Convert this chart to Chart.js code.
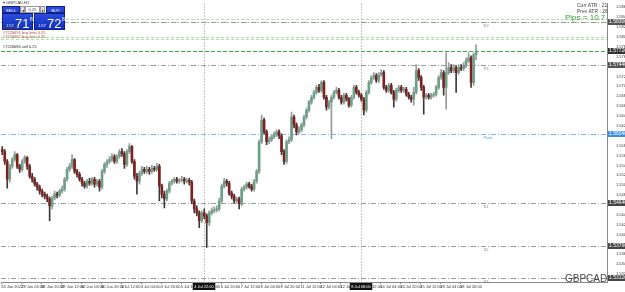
<!DOCTYPE html>
<html><head><meta charset="utf-8">
<script src="https://cdn.jsdelivr.net/npm/chart.js@4.4.0/dist/chart.umd.min.js"></script>
<style>
html,body{margin:0;padding:0;background:#fff;}
#wrap{position:relative;width:625px;height:292px;overflow:hidden;font-family:"Liberation Sans",Arial,sans-serif;}
#c{position:absolute;left:0;top:0;}
.t{position:absolute;white-space:nowrap;line-height:1;}
.btn{position:absolute;background:#2a48d8;color:#fff;font-size:4px;text-align:center;line-height:7px;border:1px solid #0c1f8a;box-sizing:border-box;}
.quote{position:absolute;background:linear-gradient(#2b4be0,#1230b8);color:#fff;border:1px solid #0c1f8a;box-sizing:border-box;}
</style></head><body>
<div id="wrap">
<canvas id="c" width="625" height="292"></canvas>
<div class="t" style="left:3px;top:1px;font-size:4px;color:#333;">▾ GBPCAD,H1</div>
<div class="btn" style="left:2px;top:6px;width:18px;height:7px;">SELL</div>
<div class="btn" style="left:20px;top:6px;width:5px;height:7px;background:#ddd;color:#333;border-color:#999;">◂</div>
<div class="t" style="left:25px;top:6px;width:15px;height:7px;background:#fff;border:1px solid #999;box-sizing:border-box;font-size:4px;color:#333;text-align:center;line-height:5px;">0.25</div>
<div class="btn" style="left:40px;top:6px;width:5px;height:7px;background:#ddd;color:#333;border-color:#999;">▸</div>
<div class="btn" style="left:46px;top:6px;width:19px;height:7px;">BUY</div>
<div class="quote" style="left:2px;top:13px;width:31px;height:17px;"><span class="t" style="left:3px;top:10px;font-size:4px;">1.57</span><span class="t" style="left:12px;top:3px;font-size:13px;">71</span><span class="t" style="left:27px;top:3px;font-size:5px;">8</span></div>
<div class="quote" style="left:34px;top:13px;width:31px;height:17px;"><span class="t" style="left:3px;top:10px;font-size:4px;">1.57</span><span class="t" style="left:12px;top:3px;font-size:13px;">72</span><span class="t" style="left:27px;top:3px;font-size:5px;">8</span></div>
<div class="t" style="left:3px;top:26px;font-size:4px;color:#555;">A2Q5/H5</div>
<div class="t" style="left:3px;top:31px;font-size:4px;color:#a44;">#7226691 buy limit 0.25</div>
<div class="t" style="left:3px;top:35px;font-size:4px;color:#a44;">#7226692 buy limit 0.25</div>
<div class="t" style="left:3px;top:45px;font-size:4px;color:#333;">#7226686 sell 0.25</div>
<div class="t" style="left:577px;top:3px;font-size:5px;color:#444;">Curr ATR : 21</div>
<div class="t" style="left:577px;top:9px;font-size:5px;color:#444;">Prev ATR : 26</div>
<div class="t" style="left:565px;top:14px;font-size:8px;color:#3aa23a;">Pips = 10.7</div>
<div class="t" style="left:565px;top:274px;font-size:10px;color:#444;">GBPCAD</div>
</div>
<script>
// ---- data (H2 candles, GBPCAD) ----
const opens = [
1.5572,1.5568,1.5548,1.5512,1.5538,1.5552,1.5562,1.5538,1.5532,1.5548,
1.5556,1.5538,1.5518,1.5512,1.5502,1.5496,1.5488,1.5482,1.5478,1.5472,
1.5458,1.5474,1.5482,1.5480,1.5488,1.5492,1.5512,1.5532,1.5538,1.5552,
1.5528,1.5522,1.5512,1.5504,1.5498,1.5508,1.5504,1.5512,1.5502,1.5508,
1.5496,1.5528,1.5542,1.5548,1.5552,1.5558,1.5548,1.5558,1.5568,1.5564,
1.5542,1.5568,1.5578,1.5548,1.5518,1.5508,1.5524,1.5532,1.5528,1.5532,
1.5528,1.5534,1.5532,1.5538,1.5498,1.5482,1.5472,1.5488,1.5504,1.5508,
1.5512,1.5508,1.5510,1.5512,1.5508,1.5510,1.5506,1.5468,1.5452,1.5444,
1.5428,1.5444,1.5438,1.5424,1.5444,1.5448,1.5450,1.5452,1.5468,1.5498,
1.5508,1.5504,1.5484,1.5478,1.5468,1.5472,1.5462,1.5492,1.5496,1.5502,
1.5498,1.5492,1.5508,1.5528,1.5588,1.5632,1.5608,1.5588,1.5592,1.5598,
1.5602,1.5608,1.5600,1.5568,1.5548,1.5588,1.5592,1.5638,1.5622,1.5608,
1.5612,1.5622,1.5638,1.5652,1.5668,1.5678,1.5688,1.5698,1.5692,1.5708,
1.5678,1.5658,1.5668,1.5678,1.5688,1.5692,1.5678,1.5668,1.5682,1.5674,
1.5662,1.5678,1.5698,1.5688,1.5682,1.5674,1.5652,1.5688,1.5708,1.5718,
1.5722,1.5712,1.5724,1.5728,1.5698,1.5692,1.5702,1.5688,1.5674,1.5692,
1.5698,1.5692,1.5694,1.5684,1.5678,1.5674,1.5688,1.5732,1.5718,1.5698,
1.5678,1.5682,1.5678,1.5682,1.5684,1.5698,1.5718,1.5728,1.5698,1.5728,
1.5738,1.5732,1.5738,1.5728,1.5738,1.5736,1.5742,1.5752,1.5758,1.5708,
1.5764];
const highs = [
1.5578,1.5572,1.5552,1.5542,1.5556,1.5568,1.5564,1.5542,1.5552,1.5560,
1.5558,1.5542,1.5524,1.5516,1.5506,1.5500,1.5492,1.5486,1.5482,1.5476,
1.5478,1.5488,1.5486,1.5492,1.5498,1.5516,1.5536,1.5544,1.5562,1.5554,
1.5532,1.5526,1.5516,1.5508,1.5512,1.5514,1.5516,1.5516,1.5512,1.5512,
1.5532,1.5546,1.5552,1.5558,1.5564,1.5562,1.5562,1.5572,1.5574,1.5568,
1.5572,1.5584,1.5580,1.5552,1.5524,1.5528,1.5538,1.5536,1.5538,1.5536,
1.5540,1.5538,1.5544,1.5542,1.5502,1.5488,1.5492,1.5508,1.5512,1.5516,
1.5516,1.5514,1.5518,1.5516,1.5514,1.5514,1.5510,1.5472,1.5458,1.5448,
1.5448,1.5452,1.5442,1.5448,1.5454,1.5456,1.5458,1.5474,1.5502,1.5514,
1.5512,1.5508,1.5488,1.5482,1.5476,1.5476,1.5496,1.5500,1.5506,1.5506,
1.5502,1.5512,1.5532,1.5592,1.5642,1.5636,1.5612,1.5598,1.5602,1.5608,
1.5612,1.5612,1.5604,1.5572,1.5592,1.5598,1.5648,1.5642,1.5626,1.5618,
1.5626,1.5642,1.5656,1.5672,1.5682,1.5692,1.5702,1.5704,1.5712,1.5712,
1.5682,1.5672,1.5682,1.5692,1.5698,1.5696,1.5682,1.5686,1.5686,1.5678,
1.5682,1.5702,1.5702,1.5692,1.5686,1.5678,1.5692,1.5712,1.5722,1.5728,
1.5726,1.5728,1.5734,1.5732,1.5702,1.5706,1.5706,1.5692,1.5696,1.5702,
1.5702,1.5698,1.5698,1.5688,1.5682,1.5698,1.5744,1.5736,1.5722,1.5702,
1.5686,1.5686,1.5686,1.5688,1.5702,1.5722,1.5734,1.5732,1.5768,1.5748,
1.5744,1.5744,1.5742,1.5744,1.5744,1.5748,1.5758,1.5768,1.5762,1.5768,
1.5784];
const lows = [
1.5562,1.5542,1.5494,1.5506,1.5534,1.5548,1.5534,1.5526,1.5528,1.5544,
1.5532,1.5514,1.5506,1.5498,1.5490,1.5482,1.5476,1.5472,1.5466,1.5428,
1.5452,1.5470,1.5474,1.5476,1.5484,1.5488,1.5508,1.5528,1.5534,1.5524,
1.5516,1.5508,1.5498,1.5494,1.5494,1.5500,1.5500,1.5496,1.5498,1.5488,
1.5492,1.5524,1.5536,1.5544,1.5548,1.5544,1.5544,1.5554,1.5558,1.5534,
1.5538,1.5564,1.5544,1.5512,1.5482,1.5502,1.5520,1.5524,1.5524,1.5522,
1.5524,1.5528,1.5528,1.5468,1.5474,1.5454,1.5468,1.5484,1.5500,1.5504,
1.5504,1.5504,1.5506,1.5502,1.5504,1.5500,1.5462,1.5444,1.5438,1.5414,
1.5424,1.5432,1.5374,1.5418,1.5440,1.5444,1.5446,1.5448,1.5464,1.5494,
1.5498,1.5480,1.5472,1.5464,1.5464,1.5452,1.5458,1.5488,1.5492,1.5494,
1.5488,1.5488,1.5504,1.5524,1.5584,1.5604,1.5582,1.5584,1.5588,1.5594,
1.5598,1.5594,1.5562,1.5542,1.5544,1.5584,1.5588,1.5616,1.5602,1.5604,
1.5608,1.5618,1.5634,1.5648,1.5664,1.5674,1.5684,1.5688,1.5688,1.5674,
1.5652,1.5654,1.5594,1.5674,1.5684,1.5674,1.5664,1.5664,1.5670,1.5658,
1.5658,1.5674,1.5684,1.5678,1.5670,1.5642,1.5648,1.5684,1.5704,1.5714,
1.5708,1.5708,1.5720,1.5694,1.5688,1.5688,1.5684,1.5658,1.5670,1.5688,
1.5688,1.5688,1.5680,1.5674,1.5668,1.5662,1.5684,1.5712,1.5692,1.5644,
1.5674,1.5674,1.5674,1.5678,1.5680,1.5694,1.5714,1.5682,1.5654,1.5724,
1.5728,1.5728,1.5688,1.5724,1.5732,1.5732,1.5738,1.5748,1.5698,1.5702,
1.5754];
const closes = [
1.5568,1.5548,1.5512,1.5538,1.5552,1.5562,1.5538,1.5532,1.5548,1.5556,
1.5538,1.5518,1.5512,1.5502,1.5496,1.5488,1.5482,1.5478,1.5472,1.5458,
1.5474,1.5482,1.5480,1.5488,1.5492,1.5512,1.5532,1.5538,1.5552,1.5528,
1.5522,1.5512,1.5504,1.5498,1.5508,1.5504,1.5512,1.5502,1.5508,1.5496,
1.5528,1.5542,1.5548,1.5552,1.5558,1.5548,1.5558,1.5568,1.5564,1.5542,
1.5568,1.5578,1.5548,1.5518,1.5508,1.5524,1.5532,1.5528,1.5532,1.5528,
1.5534,1.5532,1.5538,1.5498,1.5482,1.5472,1.5488,1.5504,1.5508,1.5512,
1.5508,1.5510,1.5512,1.5508,1.5510,1.5506,1.5468,1.5452,1.5444,1.5428,
1.5444,1.5438,1.5424,1.5444,1.5448,1.5450,1.5452,1.5468,1.5498,1.5508,
1.5504,1.5484,1.5478,1.5468,1.5472,1.5462,1.5492,1.5496,1.5502,1.5498,
1.5492,1.5508,1.5528,1.5588,1.5632,1.5608,1.5588,1.5592,1.5598,1.5602,
1.5608,1.5600,1.5568,1.5548,1.5588,1.5592,1.5638,1.5622,1.5608,1.5612,
1.5622,1.5638,1.5652,1.5668,1.5678,1.5688,1.5698,1.5692,1.5708,1.5678,
1.5658,1.5668,1.5678,1.5688,1.5692,1.5678,1.5668,1.5682,1.5674,1.5662,
1.5678,1.5698,1.5688,1.5682,1.5674,1.5652,1.5688,1.5708,1.5718,1.5722,
1.5712,1.5724,1.5728,1.5698,1.5692,1.5702,1.5688,1.5674,1.5692,1.5698,
1.5692,1.5694,1.5684,1.5678,1.5674,1.5688,1.5732,1.5718,1.5698,1.5678,
1.5682,1.5678,1.5682,1.5684,1.5698,1.5718,1.5728,1.5698,1.5728,1.5738,
1.5732,1.5738,1.5728,1.5738,1.5736,1.5742,1.5752,1.5758,1.5708,1.5764,
1.5772];
const xTickLabels = ["24 Jun 2022","28 Jun 04:00","28 Jun 20:00","29 Jun 12:00","30 Jun 04:00","30 Jun 20:00",
"1 Jul 12:00","4 Jul 04:00","4 Jul 20:00","5 Jul 12:00","6 Jul 04:00","6 Jul 20:00","7 Jul 12:00",
"8 Jul 04:00","8 Jul 20:00","11 Jul 12:00","12 Jul 04:00","12 Jul 20:00","13 Jul 12:00","14 Jul 04:00",
"14 Jul 20:00","15 Jul 12:00","18 Jul 04:00","18 Jul 20:00"];
const yTicks = [1.5320,1.5340,1.5360,1.5380,1.5400,1.5420,1.5440,1.5460,1.5480,1.5500,1.5520,1.5540,1.5560,
1.5580,1.5600,1.5620,1.5640,1.5660,1.5680,1.5700,1.5720,1.5740,1.5760,1.5780,1.5800,1.5820,1.5840,1.5860];
const pivotNames = ["R2","R1","Pivot","S1","S2","S3"];
const pivotValues = [1.5830,1.5744,1.5604,1.5464,1.5376,1.5312];
const orderValues = [1.5836,1.5830,1.5800,1.5796];
const openOrderValue = 1.5772;
const vLineIndex = [81,144];
const vLineLabels = ["4 Jul 22:00","8 Jul 08:00"];

// ---- layout ----
const SLOTS = 243;
const yMin = 1.5304, yMax = 1.5868;
const labels = Array.from({length:SLOTS},(_,i)=>String(i));
const wickData = labels.map((_,i)=> i<closes.length ? [lows[i],highs[i]] : null);
const bodyData = labels.map((_,i)=> i<closes.length ? [opens[i],closes[i]] : null);
const bull = i => closes[i] >= opens[i];
const bodyColors = labels.map((_,i)=> i<closes.length ? (bull(i) ? '#6c9f88' : '#7e2020') : '#000');
const wickColors = labels.map((_,i)=> i<closes.length ? (bull(i) ? '#9a9a9a' : '#3a3a3a') : '#000');

function fmt(v){return v.toFixed(5);}
const FONT = '"Liberation Sans", Arial, sans-serif';

const overlay = {
  id:'overlay',
  beforeDatasetsDraw(chart){
    const {ctx, chartArea:a, scales:{x,y}} = chart;
    ctx.save();
    ctx.lineWidth = 1;
    ctx.strokeStyle = '#8f8f8f'; ctx.setLineDash([1,2]);
    vLineIndex.forEach(i=>{const px=Math.round(x.getPixelForValue(i))+0.5;ctx.beginPath();ctx.moveTo(px,a.top);ctx.lineTo(px,a.bottom);ctx.stroke();});
    ctx.setLineDash([3,2]);
    orderValues.forEach(v=>{const py=Math.round(y.getPixelForValue(v))+0.5;ctx.strokeStyle='#a8e6a0';ctx.beginPath();ctx.moveTo(a.left,py);ctx.lineTo(a.right,py);ctx.stroke();});
    {const py=Math.round(y.getPixelForValue(openOrderValue))+0.5;ctx.strokeStyle='#38b038';ctx.setLineDash([4,2]);ctx.beginPath();ctx.moveTo(a.left,py);ctx.lineTo(a.right,py);ctx.stroke();}
    pivotValues.forEach((v,k)=>{
      const py=Math.round(y.getPixelForValue(v))+0.5;
      const isP = pivotNames[k]==='Pivot';
      ctx.strokeStyle = isP ? '#7ab8f0' : '#9a9a9a';
      ctx.setLineDash([5,2,1,2]);
      ctx.beginPath();ctx.moveTo(a.left,py);ctx.lineTo(a.right,py);ctx.stroke();
      ctx.setLineDash([]);
      ctx.fillStyle = isP ? '#4a9be8' : '#888';
      ctx.font = '4px '+FONT;
      ctx.textAlign='left'; ctx.textBaseline='top';
      ctx.fillText(pivotNames[k], x.getPixelForValue(193), py+1);
    });
    ctx.restore();
  },
  afterDraw(chart){
    const {ctx, chartArea:a, scales:{x,y}} = chart;
    ctx.save();
    // time axis labels
    ctx.font = '4px '+FONT; ctx.fillStyle='#333'; ctx.textAlign='left'; ctx.textBaseline='top';
    xTickLabels.forEach((t,k)=>{
      const px = x.getPixelForValue(k*8) - 1;
      if (px < a.right - 20) ctx.fillText(t, px, a.bottom+3);
    });
    ctx.strokeStyle='#888'; ctx.lineWidth=1;
    xTickLabels.forEach((t,k)=>{const px=Math.round(x.getPixelForValue(k*8))-0.5; if(px<a.right){ctx.beginPath();ctx.moveTo(px,a.bottom);ctx.lineTo(px,a.bottom+2);ctx.stroke();}});
    // price markers
    ctx.font = '5px '+FONT;
    ctx.textBaseline='middle'; ctx.textAlign='left';
    const boxes = [[orderValues[1],'#555'],[openOrderValue,'#333'],[pivotValues[1],'#555'],[pivotValues[2],'#3d8fe0'],[pivotValues[3],'#444'],[pivotValues[4],'#444'],[pivotValues[5],'#444']];
    boxes.forEach(([v,c])=>{
      const py=Math.round(y.getPixelForValue(v));
      ctx.fillStyle=c; ctx.fillRect(a.right+1,py-3,17,6);
      ctx.fillStyle='#fff'; ctx.fillText(fmt(v),a.right+2,py);
    });
    // separator time labels
    ctx.font = '4px '+FONT;
    ctx.textBaseline='top';
    vLineIndex.forEach((i,k)=>{
      const px=Math.round(x.getPixelForValue(i));
      const w = ctx.measureText(vLineLabels[k]).width+3;
      ctx.fillStyle='#111'; ctx.fillRect(px-w/2,a.bottom+1,w,7);
      ctx.fillStyle='#fff'; ctx.textAlign='center'; ctx.fillText(vLineLabels[k],px,a.bottom+3);
    });
    ctx.restore();
  }
};

new Chart(document.getElementById('c'),{
  type:'bar',
  data:{labels, datasets:[
    {data:wickData, backgroundColor:wickColors, barThickness:1, grouped:false, order:2},
    {data:bodyData, backgroundColor:bodyColors, barThickness:2, minBarLength:1, grouped:false, order:1}
  ]},
  options:{
    responsive:false, animation:false, devicePixelRatio:1,
    layout:{padding:{left:1,top:0,right:0,bottom:0}},
    plugins:{legend:{display:false}, tooltip:{enabled:false}},
    scales:{
      x:{
        grid:{display:false}, border:{display:true,color:'#888'},
        afterFit:s=>{s.height=10;},
        ticks:{display:false}
      },
      y:{
        position:'right', min:yMin, max:yMax,
        grid:{display:false}, border:{display:true,color:'#888'},
        afterFit:s=>{s.width=18;},
        afterBuildTicks:s=>{s.ticks=yTicks.map(v=>({value:v}));},
        ticks:{padding:1,color:'#333',font:{size:4,family:FONT},callback:v=>fmt(v)}
      }
    }
  },
  plugins:[overlay]
});
</script>
</body></html>
